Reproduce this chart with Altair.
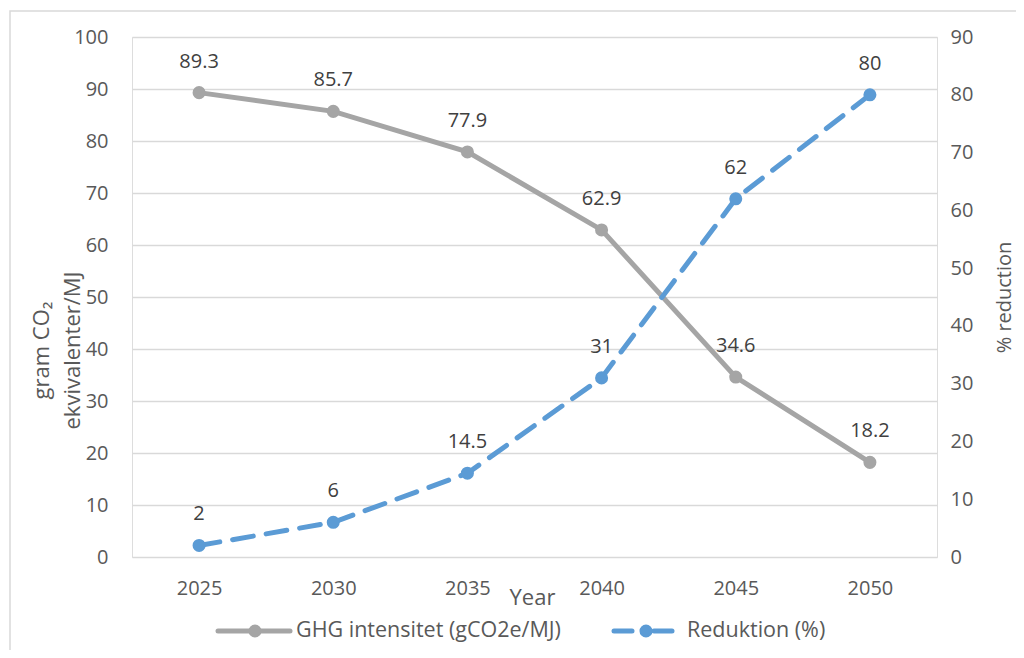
import altair as alt
import pandas as pd

years = ["2025", "2030", "2035", "2040", "2045", "2050"]
ghg = [89.3, 85.7, 77.9, 62.9, 34.6, 18.2]
reduction = [2, 6, 14.5, 31, 62, 80]
series_names = ["GHG intensitet (gCO2e/MJ)", "Reduktion (%)"]
left_ticks = list(range(0, 101, 10))
right_ticks = list(range(0, 91, 10))

df = pd.DataFrame({"Year": years, "ghg": ghg, "red": reduction})
df["ghg_label"] = [f"{v:g}" for v in ghg]
df["red_label"] = [f"{v:g}" for v in reduction]

FONT = "Open Sans, Lato, sans-serif"
GREY = "#A5A5A5"
BLUE = "#5B9BD5"
TXT = "#404040"
TICK = "#595959"
W, H = 805, 520
TS = 20   # tick label size
LS = 20   # data label size

xenc = alt.X(
    "Year:O",
    sort=years,
    scale=alt.Scale(type="point", padding=0.5),
    axis=alt.Axis(
        title="Year", labelAngle=0, ticks=False, domain=False, grid=False,
        labelPadding=21, labelFontSize=TS, labelColor=TICK, labelFont=FONT,
        titleFont=FONT, titleFontSize=22, titleFontWeight="normal", titleColor=TICK,
        titleX=400, titleY=40, titleAlign="center", titleBaseline="middle",
    ),
)

yleft = alt.Y(
    "ghg:Q",
    scale=alt.Scale(domain=[0, 100], nice=False),
    axis=alt.Axis(
        orient="left", values=left_ticks, grid=True, gridColor="#D9D9D9", gridWidth=1.3,
        domain=False, ticks=False, labelPadding=24, labelFontSize=TS, labelColor=TICK,
        labelFont=FONT,
        title=["gram CO\u2082", "ekvivalenter/MJ"], titleFont=FONT, titleFontSize=22,
        titleFontWeight="normal", titleColor=TICK, titleAngle=270,
        titleX=-101, titleY=313, titleAlign="center", titleBaseline="top", titleLineHeight=31,
    ),
)

yright = alt.Y(
    "red:Q",
    scale=alt.Scale(domain=[0, 90], nice=False),
    axis=alt.Axis(
        orient="right", values=right_ticks, grid=False, domain=False, ticks=False,
        labelPadding=13, labelFontSize=TS, labelColor=TICK, labelFont=FONT,
        title="% reduction", titleFont=FONT, titleFontSize=20, titleFontWeight="normal",
        titleColor=TICK, titleAngle=270, titleX=67, titleY=260, titleAlign="center",
        titleBaseline="middle",
    ),
)

base = alt.Chart(df)

grey_line = base.mark_line(color=GREY, strokeWidth=5).encode(x=xenc, y=yleft)
grey_pts = base.mark_point(filled=True, color=GREY, size=170, opacity=1).encode(x=xenc, y=yleft)
grey_txt = base.mark_text(dy=-31, fontSize=LS, font=FONT, color=TXT).encode(
    x=xenc, y=yleft, text="ghg_label:N")
left = alt.layer(grey_line, grey_pts, grey_txt)

blue_line = base.mark_line(color=BLUE, strokeWidth=5, strokeDash=[21, 13], strokeCap="round").encode(
    x=xenc, y=yright)
blue_pts = base.mark_point(filled=True, color=BLUE, size=170, opacity=1).encode(x=xenc, y=yright)
blue_txt = base.mark_text(dy=-31, fontSize=LS, font=FONT, color=TXT).encode(
    x=xenc, y=yright, text="red_label:N")
right = alt.layer(blue_line, blue_pts, blue_txt)

one = pd.DataFrame({"a": [0]})
border = alt.Chart(one).mark_rect(fillOpacity=0, stroke="#D9D9D9", strokeWidth=1.5).encode(
    x=alt.value(-122), x2=alt.value(950), y=alt.value(-26), y2=alt.value(720))

LY = 594
LEG = 21.5
leg_g_line = alt.Chart(one).mark_rule(color=GREY, strokeWidth=5, strokeCap="round").encode(
    x=alt.value(86), x2=alt.value(158), y=alt.value(LY))
leg_g_pt = alt.Chart(one).mark_point(filled=True, color=GREY, size=170, opacity=1).encode(
    x=alt.value(123), y=alt.value(LY))
leg_g_txt = alt.Chart(one).mark_text(align="left", baseline="middle", fontSize=LEG, font=FONT,
                                     color=TICK, text=series_names[0]).encode(
    x=alt.value(164), y=alt.value(LY))
leg_b_l1 = alt.Chart(one).mark_rule(color=BLUE, strokeWidth=5, strokeCap="round").encode(
    x=alt.value(482), x2=alt.value(500), y=alt.value(LY))
leg_b_l2 = alt.Chart(one).mark_rule(color=BLUE, strokeWidth=5, strokeCap="round").encode(
    x=alt.value(522), x2=alt.value(540), y=alt.value(LY))
leg_b_pt = alt.Chart(one).mark_point(filled=True, color=BLUE, size=170, opacity=1).encode(
    x=alt.value(514), y=alt.value(LY))
leg_b_txt = alt.Chart(one).mark_text(align="left", baseline="middle", fontSize=LEG, font=FONT,
                                     color=TICK, text=series_names[1]).encode(
    x=alt.value(555), y=alt.value(LY))

chart = alt.layer(
    border, left, right,
    leg_g_line, leg_g_pt, leg_g_txt, leg_b_l1, leg_b_l2, leg_b_pt, leg_b_txt,
).resolve_scale(y="independent").properties(
    width=W, height=H,
    padding={"left": 124, "top": 29, "right": 79, "bottom": 93},
    autosize=alt.AutoSizeParams(type="none"),
).configure_view(stroke=None).configure(background="white")

chart.save("out.html", embed_options={"renderer": "svg", "actions": False})
